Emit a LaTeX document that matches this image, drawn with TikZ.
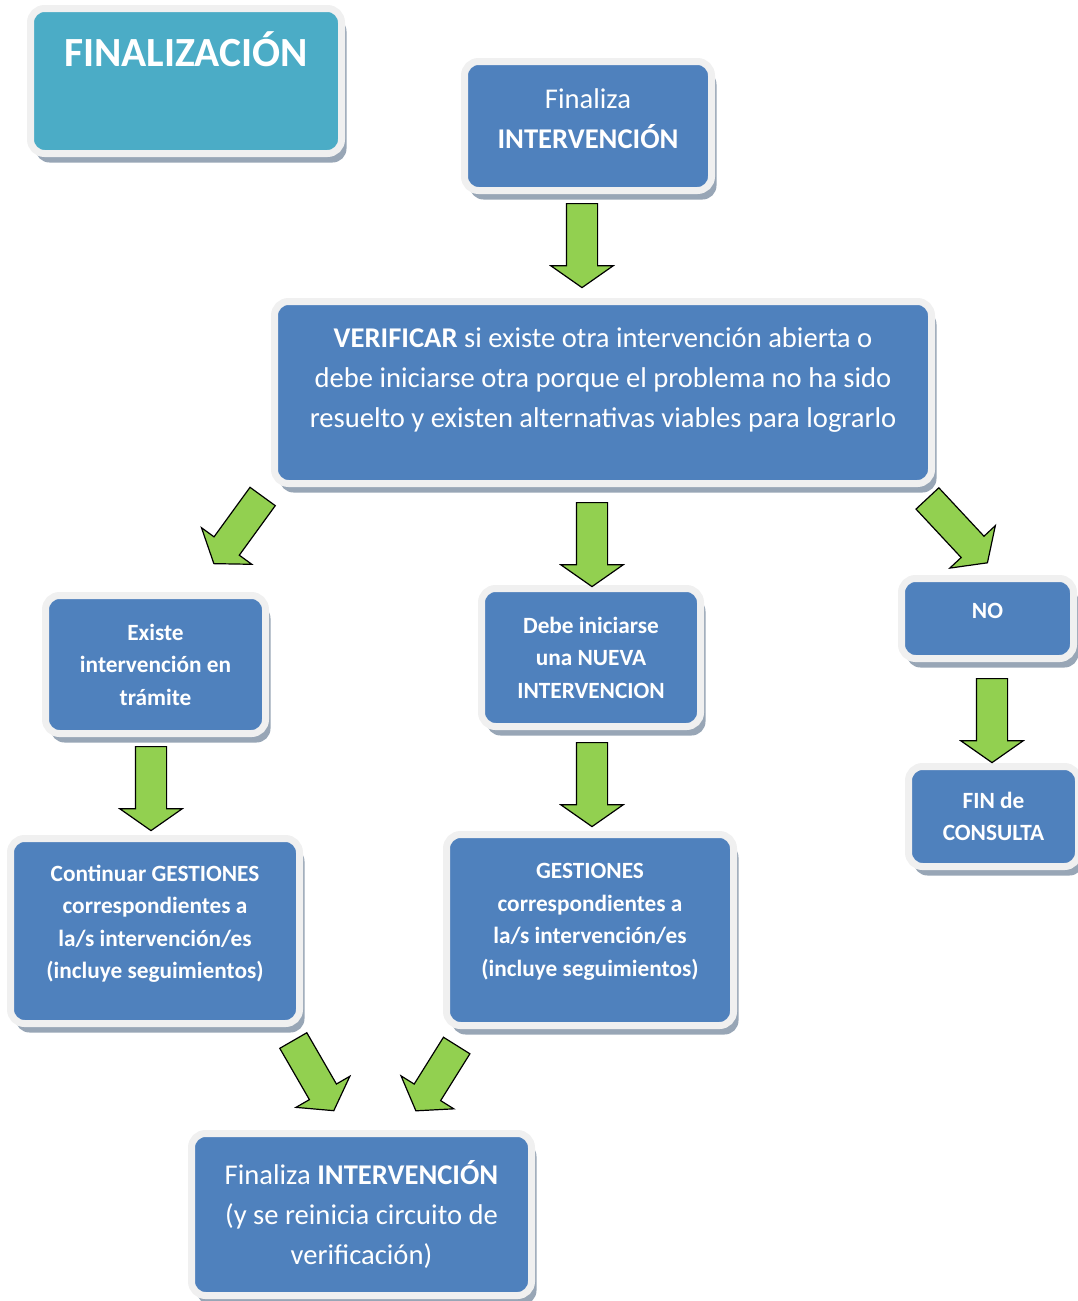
\documentclass[tikz,border=0pt]{standalone}
\usepackage{fontspec}
\setmainfont{Carlito}
\usepackage{tikz}
\usetikzlibrary{shapes.arrows,shadows}
\usepackage{xcolor}
\definecolor{azulcaja}{HTML}{4F81BD}
\definecolor{celeste}{HTML}{4BACC6}
\definecolor{borde}{HTML}{F0F0F0}
\definecolor{sombra}{HTML}{98A6B6}
\definecolor{verde}{HTML}{92D050}

\begin{document}
\begin{tikzpicture}[x=1pt,y=-1pt,
    caja/.style={rectangle, rounded corners=14pt, fill=azulcaja, draw=borde, line width=7pt, inner sep=0pt,
        drop shadow={shadow xshift=5pt, shadow yshift=-9pt, fill=sombra, opacity=1}},
    grande/.style={text=white, align=center, font=\fontsize{28.6}{40}\selectfont},
    chica/.style={text=white, align=center, font=\bfseries\fontsize{23.3}{32.5}\selectfont},
    flechaverde/.style={single arrow, fill=verde, draw=black, line width=1.2pt, inner sep=0pt, inner ysep=15pt,
        single arrow head extend=15.5pt, single arrow tip angle=110, minimum height=84pt, anchor=tail}]
    \useasboundingbox (0,0) rectangle (1078,1301);

    \node[caja, fill=celeste, minimum width=311pt, minimum height=145pt] (titulo) at (186,81) {};
    \node[text=white, font=\bfseries\fontsize{41.5}{44}\selectfont, anchor=base] (tit) at (186,66) {FINALIZACIÓN};

    \node[caja, minimum width=247pt, minimum height=129pt,
        label={[grande, yshift=7pt]center:Finaliza\\\textbf{INTERVENCIÓN}}] (inicio) at (588,126) {};
    \node[caja, minimum width=657pt, minimum height=182pt,
        label={[grande, yshift=12pt]center:\textbf{VERIFICAR} si existe otra intervención abierta o\\debe iniciarse otra porque el problema no ha sido\\resuelto y existen alternativas viables para lograrlo}] (verificar) at (603,392.5) {};

    \node[caja, minimum width=220pt, minimum height=138pt,
        label={[chica]center:Existe\\intervención en\\trámite}] (existe) at (155.5,664.5) {};
    \node[caja, minimum width=219pt, minimum height=138pt,
        label={[chica]center:Debe iniciarse\\una NUEVA\\INTERVENCION}] (nueva) at (591,657.5) {};
    \node[caja, minimum width=172pt, minimum height=80pt,
        label={[chica, yshift=8pt]center:NO}] (no) at (987.5,618.5) {};
    \node[caja, minimum width=170pt, minimum height=100pt,
        label={[chica]center:FIN de\\CONSULTA}] (fin) at (993.5,816.5) {};

    \node[caja, minimum width=289pt, minimum height=185pt,
        label={[chica, yshift=7pt]center:Continuar GESTIONES\\correspondientes a\\la/s intervención/es\\(incluye seguimientos)}] (continuar) at (155,931) {};
    \node[caja, minimum width=287pt, minimum height=191pt,
        label={[chica, yshift=8pt]center:GESTIONES\\correspondientes a\\la/s intervención/es\\(incluye seguimientos)}] (gestiones) at (590,930) {};

    \node[caja, minimum width=340pt, minimum height=162pt,
        label={[grande]center:Finaliza \textbf{INTERVENCIÓN}\\(y se reinicia circuito de\\verificación)}] (final) at (361.5,1214.5) {};

    % flechas
    \node[flechaverde, rotate=-90] (f1) at (582,203) {};
    \node[flechaverde, rotate=-126, minimum height=83pt] (f2) at (263,496) {};
    \node[flechaverde, rotate=-90] (f3) at (592,502) {};
    \node[flechaverde, rotate=-47, minimum height=88pt] (f4) at (927,498) {};
    \node[flechaverde, rotate=-90] (f5) at (151,746) {};
    \node[flechaverde, rotate=-90] (f6) at (592,742) {};
    \node[flechaverde, rotate=-90] (f7) at (992,678) {};
    \node[flechaverde, rotate=-60, minimum height=81pt] (f8) at (293,1040) {};
    \node[flechaverde, rotate=-122, minimum height=77pt] (f9) at (457,1045) {};
\end{tikzpicture}
\end{document}
